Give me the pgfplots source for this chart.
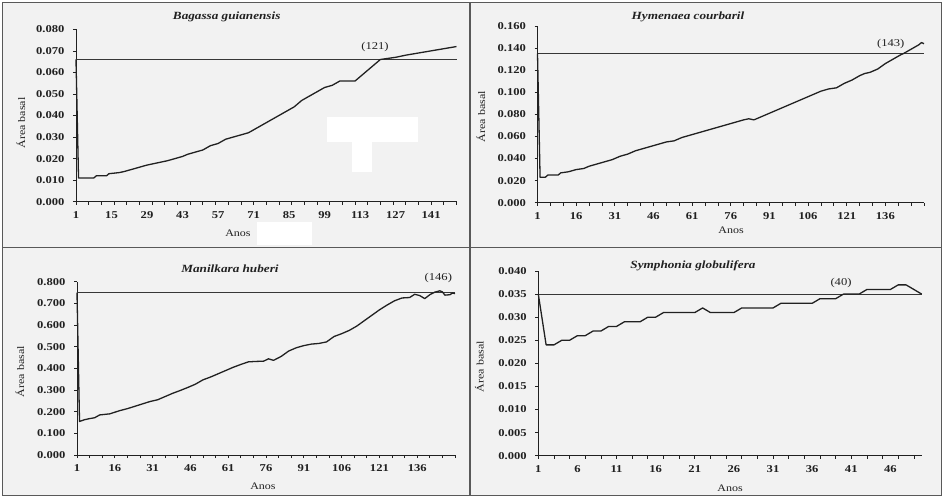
\documentclass[border=0pt]{standalone}
\usepackage{fontspec}
\setmainfont{Liberation Serif}[FakeStretch=1.2]
\usepackage{pgfplots}
\pgfplotsset{compat=1.18}
\definecolor{frame}{gray}{0.35}
\definecolor{ink}{gray}{0.13}
\pgfplotsset{
  panel/.style={
    scale only axis, anchor=south west,
    axis lines=left, axis line style={-, ink, line width=0.9pt},
    enlargelimits=false, clip=false, scaled y ticks=false, scaled x ticks=false,
    tick align=outside, major tick length=3pt, minor tick length=3pt,
    tick style={ink, line width=0.7pt},
    major x tick style={draw=none},
    xticklabel style={font=\fontsize{10.5}{12}\bfseries\selectfont, yshift=-3pt, text=ink},
    yticklabel style={font=\fontsize{10.5}{12}\bfseries\selectfont, xshift=-5pt, text=ink},
  },
  dataline/.style={ink, line width=1.3pt, line join=round},
  refline/.style={ink!90, line width=0.8pt},
}
\begin{document}
\begin{tikzpicture}
\fill[white] (0pt,0pt) rectangle (945pt,-498pt);
\fill[black!5] (2.5pt,-2.5pt) rectangle (941.5pt,-495.5pt);
% white patches of the scan
\fill[white] (327pt,-117pt) rectangle (418pt,-142pt);
\fill[white] (352pt,-142pt) rectangle (372pt,-172pt);
\fill[white] (257pt,-222pt) rectangle (312pt,-245pt);

% ---------------- Panel 1: Bagassa guianensis
\begin{axis}[panel, at={(76pt,-201.7pt)}, width=380.5pt, height=172.4pt,
  xmin=1, xmax=151, ymin=0, ymax=0.08,
  xtick={1,15,29,43,57,71,85,99,113,127,141},
  xticklabels={1,15,29,43,57,71,85,99,113,127,141},
  minor xtick={1,6,...,151},
  ytick={0,0.01,0.02,0.03,0.04,0.05,0.06,0.07,0.08},
  yticklabels={0.000,0.010,0.020,0.030,0.040,0.050,0.060,0.070,0.080}]
\addplot[refline] coordinates {(1,0.066) (151,0.066)};
\addplot[dataline] coordinates {
(1,0.066) (2,0.011) (8,0.011) (9,0.012) (13,0.012) (14,0.013) (18,0.0135) (20,0.014)
(23,0.015) (26,0.016) (29,0.017) (33,0.018) (37,0.019) (40,0.020) (43,0.021) (45,0.022)
(48,0.023) (51,0.024) (54,0.026) (57,0.027) (60,0.029) (63,0.030) (66,0.031) (69,0.032)
(72,0.034) (75,0.036) (78,0.038) (81,0.040) (84,0.042) (87,0.044) (90,0.047) (93,0.049)
(96,0.051) (99,0.053) (102,0.054) (105,0.056) (111,0.056) (114,0.059) (117,0.062)
(121,0.066) (124,0.0665) (127,0.067) (131,0.068) (136,0.069) (141,0.070) (146,0.071) (151,0.072)};
\end{axis}

% ---------------- Panel 2: Hymenaea courbaril
\begin{axis}[panel, at={(537.5pt,-202.7pt)}, width=386.5pt, height=176.7pt,
  xmin=1, xmax=151, ymin=0, ymax=0.16,
  xtick={1,16,31,46,61,76,91,106,121,136},
  xticklabels={1,16,31,46,61,76,91,106,121,136},
  minor xtick={1,6,...,151},
  ytick={0,0.02,0.04,0.06,0.08,0.10,0.12,0.14,0.16},
  yticklabels={0.000,0.020,0.040,0.060,0.080,0.100,0.120,0.140,0.160}]
\addplot[refline, line width=1.1pt] coordinates {(1,0.135) (151,0.135)};
\addplot[dataline] coordinates {
(1,0.135) (2,0.023) (4,0.023) (5,0.025) (9,0.025) (10,0.027) (13,0.028) (16,0.030)
(19,0.031) (21,0.033) (24,0.035) (27,0.037) (30,0.039) (33,0.042) (36,0.044) (39,0.047)
(42,0.049) (45,0.051) (48,0.053) (51,0.055) (54,0.056) (57,0.059) (60,0.061) (63,0.063)
(66,0.065) (69,0.067) (72,0.069) (75,0.071) (78,0.073) (81,0.075) (83,0.076) (85,0.075)
(87,0.077) (90,0.080) (93,0.083) (96,0.086) (99,0.089) (102,0.092) (105,0.095) (108,0.098)
(111,0.101) (114,0.103) (117,0.104) (120,0.108) (123,0.111) (126,0.115) (128,0.117)
(130,0.118) (133,0.121) (136,0.126) (139,0.130) (142,0.134) (143,0.135) (146,0.139)
(149,0.143) (150,0.145) (151,0.144)};
\end{axis}

% ---------------- Panel 3: Manilkara huberi
\begin{axis}[panel, at={(77pt,-455pt)}, width=378pt, height=173.3pt,
  xmin=1, xmax=151, ymin=0, ymax=0.8,
  xtick={1,16,31,46,61,76,91,106,121,136},
  xticklabels={1,16,31,46,61,76,91,106,121,136},
  minor xtick={1,6,...,151},
  ytick={0,0.1,0.2,0.3,0.4,0.5,0.6,0.7,0.8},
  yticklabels={0.000,0.100,0.200,0.300,0.400,0.500,0.600,0.700,0.800}]
\addplot[refline, line width=1pt] coordinates {(1,0.750) (151,0.750)};
\addplot[dataline] coordinates {
(1,0.750) (2,0.155) (4,0.163) (6,0.168) (8,0.172) (10,0.185) (14,0.190) (18,0.205)
(21,0.214) (24,0.225) (27,0.236) (30,0.247) (33,0.255) (36,0.270) (39,0.285) (42,0.298)
(45,0.312) (48,0.327) (51,0.347) (54,0.360) (57,0.375) (60,0.390) (63,0.405) (66,0.418)
(69,0.430) (72,0.432) (75,0.433) (77,0.444) (79,0.437) (82,0.455) (85,0.480) (88,0.495)
(91,0.505) (94,0.512) (97,0.515) (100,0.522) (103,0.547) (106,0.560) (109,0.575)
(112,0.595) (115,0.620) (118,0.645) (121,0.670) (124,0.692) (127,0.712) (130,0.725)
(133,0.727) (135,0.742) (137,0.736) (139,0.722) (141,0.740) (143,0.752) (145,0.758)
(146,0.753) (147,0.738) (149,0.740) (150,0.748) (151,0.745)};
\end{axis}

% ---------------- Panel 4: Symphonia globulifera
\begin{axis}[panel, at={(538.3pt,-455.7pt)}, width=383.4pt, height=184.7pt,
  xmin=1, xmax=50, ymin=0, ymax=0.04,
  xtick={1,6,11,16,21,26,31,36,41,46},
  xticklabels={1,6,11,16,21,26,31,36,41,46},
  minor xtick={1,3,...,49},
  ytick={0,0.005,0.01,0.015,0.02,0.025,0.03,0.035,0.04},
  yticklabels={0.000,0.005,0.010,0.015,0.020,0.025,0.030,0.035,0.040}]
\addplot[refline] coordinates {(1,0.035) (50,0.035)};
\addplot[dataline] coordinates {
(1,0.035) (2,0.024) (3,0.024) (4,0.025) (5,0.025) (6,0.026) (7,0.026) (8,0.027) (9,0.027)
(10,0.028) (11,0.028) (12,0.029) (13,0.029) (14,0.029) (15,0.030) (16,0.030) (17,0.031)
(18,0.031) (19,0.031) (20,0.031) (21,0.031) (22,0.032) (23,0.031) (24,0.031) (25,0.031)
(26,0.031) (27,0.032) (28,0.032) (29,0.032) (30,0.032) (31,0.032) (32,0.033) (33,0.033)
(34,0.033) (35,0.033) (36,0.033) (37,0.034) (38,0.034) (39,0.034) (40,0.035) (41,0.035)
(42,0.035) (43,0.036) (44,0.036) (45,0.036) (46,0.036) (47,0.037) (48,0.037) (49,0.036)
(50,0.035)};
\end{axis}

% titles
\begin{scope}[font=\fontsize{11}{13}\bfseries\itshape\selectfont, text=ink]
\node at (226.7pt,-16.7pt) {Bagassa guianensis};
\node at (688pt,-16.7pt) {Hymenaea courbaril};
\node at (230pt,-268.3pt) {Manilkara huberi};
\node at (693pt,-265.7pt) {Symphonia globulifera};
\end{scope}
% axis labels
\begin{scope}[font=\fontsize{10}{12}\selectfont, text=ink]
\node at (238pt,-233pt) {Anos};
\node at (731pt,-230pt) {Anos};
\node at (263pt,-486.5pt) {Anos};
\node at (730pt,-488.3pt) {Anos};
\node[rotate=90] at (21pt,-123pt) {Área basal};
\node[rotate=90] at (481pt,-116.7pt) {Área basal};
\node[rotate=90] at (20pt,-371.7pt) {Área basal};
\node[rotate=90] at (479.3pt,-366.7pt) {Área basal};
\end{scope}
% annotations
\begin{scope}[font=\fontsize{10.5}{12}\selectfont, text=ink]
\node at (375pt,-47pt) {(121)};
\node at (890.7pt,-44.3pt) {(143)};
\node at (438.3pt,-278.3pt) {(146)};
\node at (841pt,-283.3pt) {(40)};
\end{scope}
% frame
\draw[frame, line width=1.6pt] (2.5pt,-2.5pt) rectangle (941.5pt,-495.5pt);
\draw[frame, line width=1.6pt] (470pt,-2.5pt) -- (470pt,-495.5pt);
\draw[frame, line width=1.6pt] (2.5pt,-247.5pt) -- (941.5pt,-247.5pt);
\end{tikzpicture}
\end{document}
